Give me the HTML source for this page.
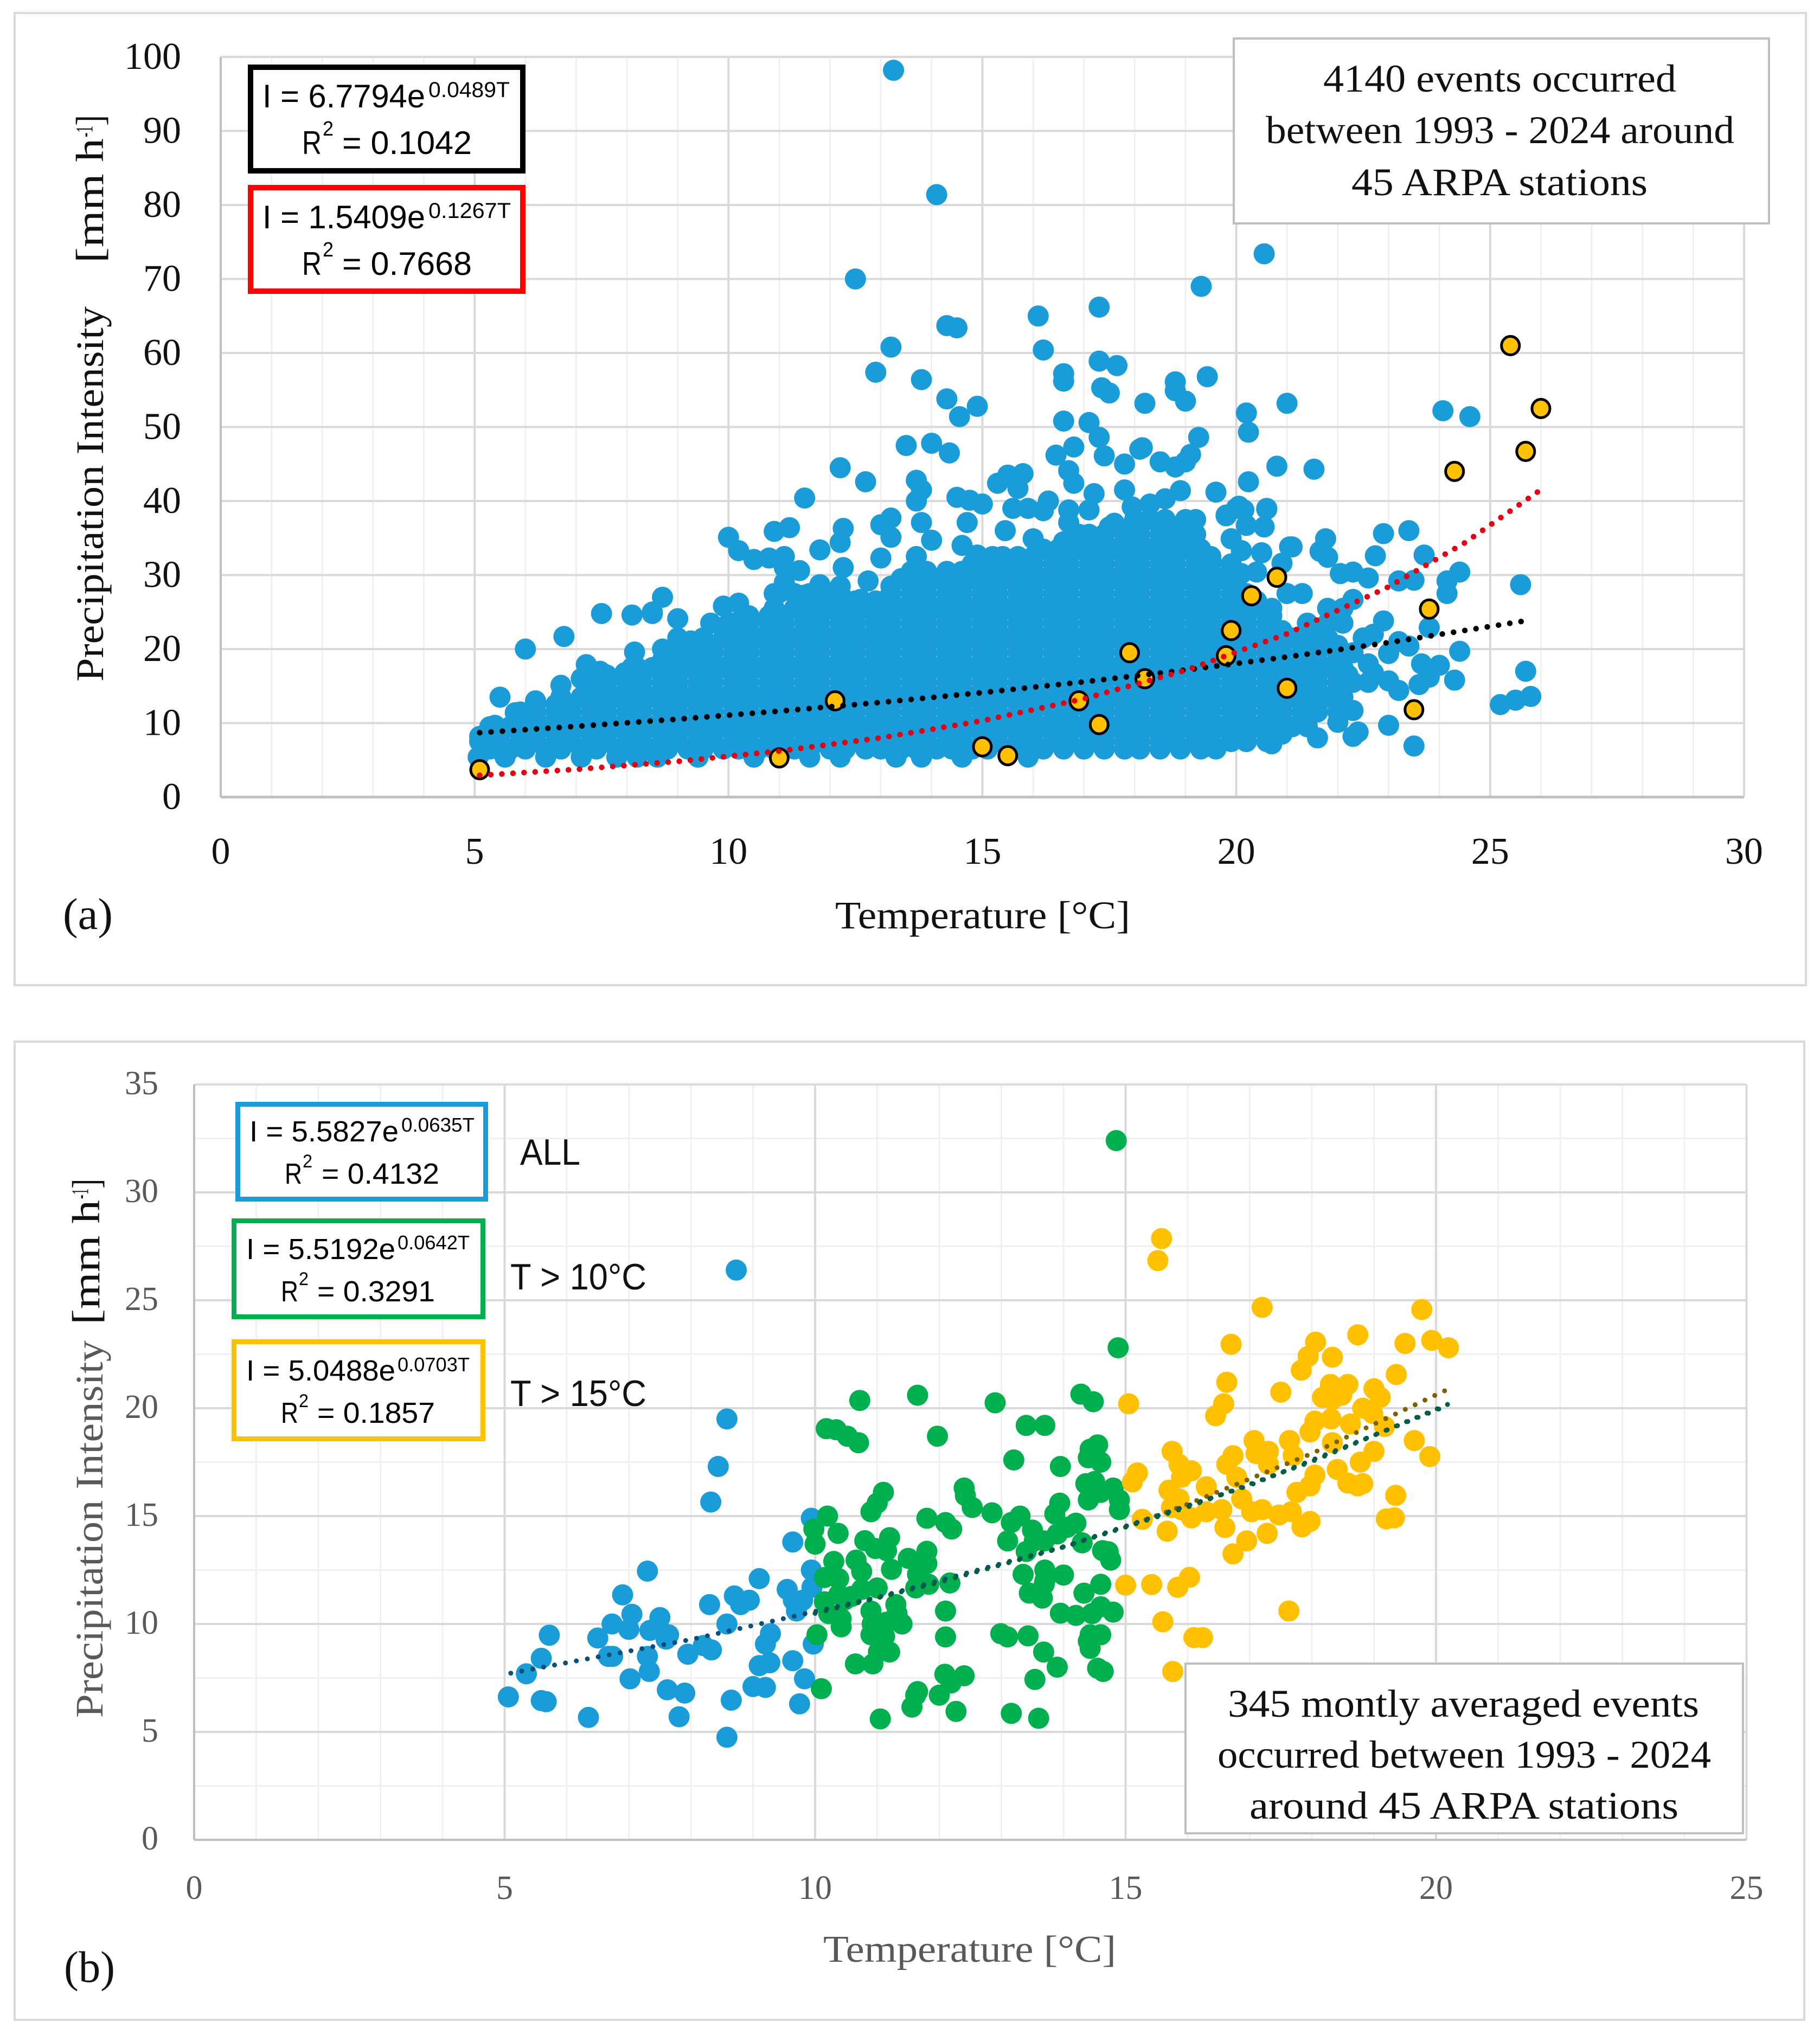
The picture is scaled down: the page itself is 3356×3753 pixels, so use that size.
<!DOCTYPE html>
<html lang="en">
<head>
<meta charset="utf-8">
<title>Precipitation intensity vs temperature</title>
<style>
html,body{margin:0;padding:0;background:#fff;}
svg{display:block;}
.serif{font-family:"Liberation Serif","DejaVu Serif",serif;}
.sans{font-family:"Liberation Sans","DejaVu Sans",sans-serif;}
</style>
</head>
<body>
<svg id="figure" xmlns="http://www.w3.org/2000/svg" width="3356" height="3753" viewBox="0 0 3356 3753">
<rect x="0" y="0" width="3356" height="3753" fill="#fff"/>
<rect x="27" y="24" width="3303" height="1793" fill="#fff" stroke="#d9d9d9" stroke-width="4"/>
<rect x="27" y="1921" width="3300" height="1804" fill="#fff" stroke="#d9d9d9" stroke-width="4"/>

<g id="gridA"></g>
<g id="gridB"></g>
<g id="marksA"></g>
<g id="marksB"></g>
<g id="ticksA" class="serif" font-size="70" fill="#111"></g>
<g id="ticksB" class="serif" font-size="62" fill="#595959"></g>

<!-- panel a annotations -->
<g class="serif" fill="#111">
<text x="1540" y="1712" font-size="72" textLength="544" lengthAdjust="spacingAndGlyphs">Temperature [°C]</text>
<text x="190" y="1257" font-size="72" textLength="692" lengthAdjust="spacingAndGlyphs" transform="rotate(-90 190 1257)">Precipitation Intensity</text>
<text x="190" y="485" font-size="72" textLength="230" lengthAdjust="spacingAndGlyphs" transform="rotate(-90 190 485)">[mm h</text>
<text x="170" y="253" font-size="44" textLength="21" lengthAdjust="spacingAndGlyphs" transform="rotate(-90 170 253)">-1</text>
<text x="190" y="232" font-size="72" textLength="20" lengthAdjust="spacingAndGlyphs" transform="rotate(-90 190 232)">]</text>
<text x="116" y="1713" font-size="82" textLength="92" lengthAdjust="spacingAndGlyphs">(a)</text>
</g>

<g class="sans" fill="#000">
<rect x="462" y="124" width="502" height="191" fill="#fff" stroke="#000" stroke-width="10"/>
<text x="484" y="198" font-size="60" textLength="300" lengthAdjust="spacingAndGlyphs">I = 6.7794e</text>
<text x="790" y="179" font-size="40" textLength="150" lengthAdjust="spacingAndGlyphs">0.0489T</text>
<text x="557" y="284" font-size="60" textLength="36" lengthAdjust="spacingAndGlyphs">R</text>
<text x="595" y="250" font-size="38" textLength="20" lengthAdjust="spacingAndGlyphs">2</text>
<text x="631" y="284" font-size="60" textLength="239" lengthAdjust="spacingAndGlyphs">= 0.1042</text>
</g>
<g class="sans" fill="#000">
<rect x="462" y="346" width="502" height="191" fill="#fff" stroke="#ff0000" stroke-width="10"/>
<text x="484" y="421" font-size="60" textLength="300" lengthAdjust="spacingAndGlyphs">I = 1.5409e</text>
<text x="790" y="402" font-size="40" textLength="152" lengthAdjust="spacingAndGlyphs">0.1267T</text>
<text x="557" y="507" font-size="60" textLength="36" lengthAdjust="spacingAndGlyphs">R</text>
<text x="595" y="473" font-size="38" textLength="20" lengthAdjust="spacingAndGlyphs">2</text>
<text x="631" y="507" font-size="60" textLength="239" lengthAdjust="spacingAndGlyphs">= 0.7668</text>
</g>
<g class="serif" fill="#111" font-size="72">
<rect x="2275" y="71" width="987" height="341" fill="#fff" stroke="#bfbfbf" stroke-width="4"/>
<text x="2440" y="169" textLength="651" lengthAdjust="spacingAndGlyphs">4140 events occurred</text>
<text x="2334" y="264" textLength="864" lengthAdjust="spacingAndGlyphs">between 1993 - 2024 around</text>
<text x="2492" y="360" textLength="546" lengthAdjust="spacingAndGlyphs">45 ARPA stations</text>
</g>

<!-- panel b annotations -->
<g class="serif">
<text fill="#595959" x="1518" y="3618" font-size="70" textLength="540" lengthAdjust="spacingAndGlyphs">Temperature [°C]</text>
<text fill="#595959" x="189" y="3168" font-size="72" textLength="696" lengthAdjust="spacingAndGlyphs" transform="rotate(-90 189 3168)">Precipitation Intensity</text>
<text fill="#111" x="183" y="2443" font-size="72" textLength="230" lengthAdjust="spacingAndGlyphs" transform="rotate(-90 183 2443)">[mm h</text>
<text fill="#111" x="162" y="2211" font-size="44" textLength="19" lengthAdjust="spacingAndGlyphs" transform="rotate(-90 162 2211)">-1</text>
<text fill="#111" x="183" y="2192" font-size="72" textLength="18" lengthAdjust="spacingAndGlyphs" transform="rotate(-90 183 2192)">]</text>
<text fill="#111" x="118" y="3655" font-size="82" textLength="94" lengthAdjust="spacingAndGlyphs">(b)</text>
</g>

<g class="sans" fill="#000">
<rect x="438.5" y="2036.5" width="457" height="175" fill="#fff" stroke="#1a9cd8" stroke-width="9"/>
<text x="460" y="2105" font-size="54" textLength="275" lengthAdjust="spacingAndGlyphs">I = 5.5827e</text>
<text x="740" y="2087" font-size="36" textLength="135" lengthAdjust="spacingAndGlyphs">0.0635T</text>
<text x="525" y="2183" font-size="54" textLength="32" lengthAdjust="spacingAndGlyphs">R</text>
<text x="558" y="2153" font-size="34" textLength="18" lengthAdjust="spacingAndGlyphs">2</text>
<text x="593" y="2183" font-size="54" textLength="217" lengthAdjust="spacingAndGlyphs">= 0.4132</text>
</g>
<g class="sans" fill="#000">
<rect x="431.5" y="2251.5" width="459" height="177" fill="#fff" stroke="#00b04f" stroke-width="9"/>
<text x="454" y="2322" font-size="54" textLength="275" lengthAdjust="spacingAndGlyphs">I = 5.5192e</text>
<text x="733" y="2304" font-size="36" textLength="133" lengthAdjust="spacingAndGlyphs">0.0642T</text>
<text x="518" y="2400" font-size="54" textLength="32" lengthAdjust="spacingAndGlyphs">R</text>
<text x="551" y="2370" font-size="34" textLength="18" lengthAdjust="spacingAndGlyphs">2</text>
<text x="585" y="2400" font-size="54" textLength="217" lengthAdjust="spacingAndGlyphs">= 0.3291</text>
</g>
<g class="sans" fill="#000">
<rect x="431.5" y="2474.5" width="459" height="179" fill="#fff" stroke="#ffc000" stroke-width="9"/>
<text x="454" y="2546" font-size="54" textLength="275" lengthAdjust="spacingAndGlyphs">I = 5.0488e</text>
<text x="733" y="2529" font-size="36" textLength="133" lengthAdjust="spacingAndGlyphs">0.0703T</text>
<text x="518" y="2624" font-size="54" textLength="32" lengthAdjust="spacingAndGlyphs">R</text>
<text x="551" y="2595" font-size="34" textLength="18" lengthAdjust="spacingAndGlyphs">2</text>
<text x="585" y="2624" font-size="54" textLength="217" lengthAdjust="spacingAndGlyphs">= 0.1857</text>
</g>
<g class="sans" fill="#111" font-size="68">
<text x="959" y="2148" textLength="111" lengthAdjust="spacingAndGlyphs">ALL</text>
<text x="941" y="2378" textLength="251" lengthAdjust="spacingAndGlyphs">T &gt; 10°C</text>
<text x="941" y="2593" textLength="251" lengthAdjust="spacingAndGlyphs">T &gt; 15°C</text>
</g>
<g class="serif" fill="#111" font-size="72">
<rect x="2186" y="3068" width="1028" height="313" fill="#fff" stroke="#bfbfbf" stroke-width="4"/>
<text x="2264" y="3166" textLength="869" lengthAdjust="spacingAndGlyphs">345 montly averaged events</text>
<text x="2245" y="3260" textLength="910" lengthAdjust="spacingAndGlyphs">occurred between 1993 - 2024</text>
<text x="2304" y="3354" textLength="791" lengthAdjust="spacingAndGlyphs">around 45 ARPA stations</text>
</g>
</svg>

<script>
// ---------- panel (a) data ----------
const xTicksA = [0, 5, 10, 15, 20, 25, 30];
const yTicksA = [0, 10, 20, 30, 40, 50, 60, 70, 80, 90, 100];
const xMinorA = [1,2,3,4,6,7,8,9,11,12,13,14,16,17,18,19,21,22,23,24,26,27,28,29];

// Dense core of the event cloud: intensity level of each band, and the temperatures read along it
const cloudLevels = [5.4, 6.5, 7.5, 9.5, 11.5, 13.5, 15.5, 17.5, 19.5, 21.5, 23.5, 25.5, 27.5, 29.5, 31.5, 33.5, 35.5, 37.5];
const cloudTemps = [
[5.6,6.4,7.1,7.8,8.2,8.6,9.4,10.5,11.6,12.2,13.3,13.8,14.6,15.9],
[5.3,5.7,6.0,6.4,6.7,7.1,7.4,7.8,8.1,8.5,8.8,9.2,9.5,9.9,10.2,10.6,10.9,11.3,11.6,12.0,12.3,12.7,13.0,13.4,13.7,14.1,14.4,14.8,15.1,15.5,15.8,16.2,16.6,17.0,17.4,17.8,18.1,18.5,18.9,19.3,19.6],
[5.2,5.5,5.9,6.2,6.6,6.9,7.3,7.6,8.0,8.3,8.7,9.0,9.4,9.7,10.1,10.4,10.8,11.1,11.5,11.8,12.2,12.5,12.9,13.2,13.6,13.9,14.3,14.6,15.0,15.3,15.7,16.0,16.4,16.7,17.1,17.4,17.8,18.1,18.5,18.8,19.2,19.5,19.9,20.2,20.6],
[5.3,5.7,6.0,6.4,6.7,7.1,7.4,7.8,8.1,8.5,8.8,9.2,9.5,9.9,10.2,10.6,10.9,11.3,11.6,12.0,12.3,12.7,13.0,13.4,13.7,14.1,14.4,14.8,15.1,15.5,15.8,16.2,16.5,16.9,17.2,17.6,17.9,18.3,18.6,19.0,19.3,19.7,20.0,20.4,20.7,21.1,21.4],
[5.9,6.2,6.6,6.9,7.3,7.6,8.0,8.3,8.7,9.0,9.4,9.7,10.1,10.4,10.8,11.1,11.5,11.8,12.2,12.5,12.9,13.2,13.6,13.9,14.3,14.6,15.0,15.3,15.7,16.0,16.4,16.7,17.1,17.4,17.8,18.1,18.5,18.8,19.2,19.5,19.9,20.2,20.6,20.9,21.3,21.6,22.0],
[6.7,7.1,7.4,7.8,8.1,8.5,8.8,9.2,9.5,9.9,10.2,10.6,10.9,11.3,11.6,12.0,12.3,12.7,13.0,13.4,13.7,14.1,14.4,14.8,15.1,15.5,15.8,16.2,16.5,16.9,17.2,17.6,17.9,18.3,18.6,19.0,19.3,19.7,20.0,20.4,20.7,21.1,21.4,21.8,22.1],
[7.3,7.6,8.0,8.3,8.7,9.0,9.4,9.7,10.1,10.4,10.8,11.1,11.5,11.8,12.2,12.5,12.9,13.2,13.6,13.9,14.3,14.6,15.0,15.3,15.7,16.0,16.4,16.7,17.1,17.4,17.8,18.1,18.5,18.8,19.2,19.5,19.9,20.2,20.6,20.9,21.3,21.6,22.0,22.3],
[8.1,8.5,8.8,9.2,9.5,9.9,10.2,10.6,10.9,11.3,11.6,12.0,12.3,12.7,13.0,13.4,13.7,14.1,14.4,14.8,15.1,15.5,15.8,16.2,16.5,16.9,17.2,17.6,17.9,18.3,18.6,19.0,19.3,19.7,20.0,20.4,20.7,21.1,21.4,21.8,22.1],
[9.0,9.4,9.7,10.1,10.4,10.8,11.1,11.5,11.8,12.2,12.5,12.9,13.2,13.6,13.9,14.3,14.6,15.0,15.3,15.7,16.0,16.4,16.7,17.1,17.4,17.8,18.1,18.5,18.8,19.2,19.5,19.9,20.2,20.6,20.9,21.3,21.6,22.0,22.3],
[9.5,9.9,10.2,10.6,10.9,11.3,11.6,12.0,12.3,12.7,13.0,13.4,13.7,14.1,14.4,14.8,15.1,15.5,15.8,16.2,16.5,16.9,17.2,17.6,17.9,18.3,18.6,19.0,19.3,19.7,20.0,20.4,20.7,21.1,21.4,21.8],
[10.1,10.4,10.8,11.1,11.5,11.8,12.2,12.5,12.9,13.2,13.6,13.9,14.3,14.6,15.0,15.3,15.7,16.0,16.4,16.7,17.1,17.4,17.8,18.1,18.5,18.8,19.2,19.5,19.9,20.2,20.6,21.4,21.8,22.1],
[10.9,11.3,11.6,12.0,12.3,12.7,13.0,13.4,13.7,14.1,14.4,14.8,15.1,15.5,15.8,16.2,16.5,16.9,17.2,17.6,17.9,18.3,18.6,19.0,19.3,19.7,20.0,20.4,20.7,21.8,22.1],
[10.9,11.3,11.6,12.0,12.2,13.2,13.6,13.9,14.3,14.6,15.0,15.3,15.7,16.0,16.4,16.7,17.1,17.4,17.8,18.1,18.5,18.8,19.2,19.5,19.9,20.2,21.0,21.3],
[13.4,13.7,14.1,14.4,14.8,15.1,15.5,15.8,16.2,16.5,16.9,17.2,17.6,17.9,18.3,18.6,19.0,19.3,19.7],
[14.8,15.2,15.6,16.0,16.4,16.7,17.1,17.4,17.8,18.1,18.5,18.8,19.2,19.5,19.9],
[16.2,16.5,16.9,17.2,17.6,17.9,18.3,18.6,19.0,19.3],
[16.9,17.4,17.8,18.1,18.5,18.8,19.2],
[18.0,18.3,18.6,19.0,19.2]
];

// Second pass of bands between the levels above, where the reference cloud is solid
const cloudFillLevels = [8.5, 10.5, 12.5, 14.5, 16.5, 18.5, 20.5, 22.5, 24.5, 26.5, 28.5, 30.5, 32.5, 34.5, 36.5];
const cloudFillTemps = [
[5.5,6.2,6.9,7.6,8.3,9.0,9.7,10.4,11.1,11.8,12.5,13.2,13.9,14.6,15.3,16.0,16.7,17.4,18.1,18.8,19.5,20.2,20.9],
[5.9,6.6,7.3,8.0,8.7,9.4,10.1,10.8,11.5,12.2,12.9,13.6,14.3,15.0,15.7,16.4,17.1,17.8,18.5,19.2,19.9,20.6,21.3],
[6.2,6.9,7.6,8.3,9.0,9.7,10.4,11.1,11.8,12.5,13.2,13.9,14.6,15.3,16.0,16.7,17.4,18.1,18.8,19.5,20.2,20.9,21.6],
[7.3,8.0,8.7,9.4,10.1,10.8,11.5,12.2,12.9,13.6,14.3,15.0,15.7,16.4,17.1,17.8,18.5,19.2,19.9,20.6,21.3,22.0],
[7.6,8.3,9.0,9.7,10.4,11.1,11.8,12.5,13.2,13.9,14.6,15.3,16.0,16.7,17.4,18.1,18.8,19.5,20.2,20.9,21.6,22.2],
[8.7,9.4,10.1,10.8,11.5,12.2,12.9,13.6,14.3,15.0,15.7,16.4,17.1,17.8,18.5,19.2,19.9,20.6,21.3,22.0],
[9.3,9.7,10.4,11.1,11.8,12.5,13.2,13.9,14.6,15.3,16.0,16.7,17.4,18.1,18.8,19.5,20.2,20.9,21.6,22.0],
[10.1,10.8,11.5,12.2,12.9,13.6,14.3,15.0,15.7,16.4,17.1,17.8,18.5,19.2,19.9,20.6,21.6],
[10.4,11.1,11.8,12.5,13.2,13.9,14.6,15.3,16.0,16.7,17.4,18.1,18.8,19.5,20.2,20.7],
[11.5,12.2,12.9,13.6,14.3,15.0,15.7,16.4,17.1,17.8,18.5,19.2,19.9,20.4],
[13.2,13.9,14.6,15.3,16.0,16.7,17.4,18.1,18.8,19.5,20.0],
[13.6,14.3,15.0,15.7,16.4,17.1,17.8,18.5,19.2,19.9],
[15.2,16.0,16.7,17.4,18.1,18.8,19.5],
[16.6,17.1,17.8,18.5,19.1],
[17.5,18.1,18.8]
];

// Third pass on the same levels, closing the pinholes left in the solid area
const cloudCloseLevels = [8.5, 10.5, 12.5, 14.5, 16.5, 18.5, 20.5, 22.5, 24.5, 26.5, 28.5, 30.5, 32.5, 34.5];
const cloudCloseTemps = [
[5.9,6.6,7.3,8.0,8.7,9.4,10.1,10.8,11.5,12.2,12.9,13.6,14.3,15.0,15.7,16.4,17.1,17.8,18.5,19.2,19.9,20.6],
[6.2,6.9,7.6,8.3,9.0,9.7,10.4,11.1,11.8,12.5,13.2,13.9,14.6,15.3,16.0,16.7,17.4,18.1,18.8,19.5,20.2,20.9],
[6.6,7.3,8.0,8.7,9.4,10.1,10.8,11.5,12.2,12.9,13.6,14.3,15.0,15.7,16.4,17.1,17.8,18.5,19.2,19.9,20.6,21.3],
[7.6,8.3,9.0,9.7,10.4,11.1,11.8,12.5,13.2,13.9,14.6,15.3,16.0,16.7,17.4,18.1,18.8,19.5,20.2,20.9,21.6],
[8.0,8.7,9.4,10.1,10.8,11.5,12.2,12.9,13.6,14.3,15.0,15.7,16.4,17.1,17.8,18.5,19.2,19.9,20.6,21.3,22.0],
[9.0,9.7,10.4,11.1,11.8,12.5,13.2,13.9,14.6,15.3,16.0,16.7,17.4,18.1,18.8,19.5,20.2,20.9,21.6],
[9.4,10.1,10.8,11.5,12.2,12.9,13.6,14.3,15.0,15.7,16.4,17.1,17.8,18.5,19.2,19.9,20.6,21.3],
[10.4,11.1,11.8,12.5,13.2,13.9,14.6,15.3,16.0,16.7,17.4,18.1,18.8,19.5,20.2,20.9],
[10.8,11.5,12.2,12.9,13.6,14.3,15.0,15.7,16.4,17.1,17.8,18.5,19.2,19.9,20.6],
[11.8,12.5,13.2,13.9,14.6,15.3,16.0,16.7,17.4,18.1,18.8,19.5,20.2],
[13.6,14.3,15.0,15.7,16.4,17.1,17.8,18.5,19.2,19.9],
[13.9,14.6,15.3,16.0,16.7,17.4,18.1,18.8,19.5],
[15.7,16.4,17.1,17.8,18.5,19.2],
[17.4,18.1,18.8]
];

// Individually readable events around the cloud [temperature, intensity]
const eventsOuter = [
[13.25,98.2],[14.1,81.4],[12.5,70],[20.55,73.4],[19.31,69],[17.3,66.2],[16.1,65],[16.2,60.4],[13.2,60.8],[12.9,57.4],[14.3,63.7],[14.5,63.4],[13.8,56.4],
[14.3,53.8],[14.9,52.8],[14.55,51.4],[17.3,58.9],[17.65,58.3],[16.6,57.2],[16.6,56.2],[17.35,55.3],[17.5,54.6],[19.43,56.8],[18.8,56.1],[18.8,54.9],[19,53.5],[18.2,53.2],
[16.6,50.8],[17.1,50.6],[17.3,48.6],[16.8,47.3],[16.45,46.2],[17.4,46.1],[18.1,47],[17.8,45],[13.5,47.5],[14,47.8],[14.35,46.5],[12.2,44.5],[12.7,42.6],[11.5,40.4],
[19.26,48.6],[19.1,46.3],[18.5,45.3],[18.8,44.6],[19,45.3],[18.15,47.2],[20.2,51.9],[20.24,49.3],[21,53.2],[20.8,44.7],[21.53,44.3],[20.24,42.6],[19.6,41.2],[18.9,41.4],
[24.07,52.2],[24.6,51.4],[16.7,44.1],[17.8,41.5],[16.8,42.4],[17.2,41],[15.8,43.7],[15.5,43.5],[15.3,42.4],[15.7,41.7],[13.7,42.8],[13.8,41.5],[13.7,40],[14.5,40.5],[14.75,40.1],[15,39.6],
[16.3,40],[15.6,39],[15.9,39],[17.1,38.8],[16.7,38.8],[16.2,38.7],[16.7,37.1],[17.6,37],[17.95,39.2],[18.3,39.6],[18.6,40.3],[20,39],[20.6,39],[19.8,38.1],[19,37.3],[14.7,37.1],[15.45,36],[13.8,37.1],
[13.2,37.7],[13,36.8],[12.26,36.3],[11.2,36.4],[10.9,35.9],[10,35.1],[14,34.7],[13.2,35.1],[12.2,34.4],[14.6,34],[16,34.9],[17.1,35.5],[19.9,34.9],[20.1,33.3],[20.5,33],[21.1,33.8],
[11.8,33.4],[10.2,33.3],[10.5,32.1],[10.8,32.3],[11.1,32.5],[11.4,30.6],[11.1,31],[12.26,31],[13,32.3],[13.7,32.5],[14.9,32.7],[15.4,32.5],[16.7,33.6],[19.2,33],[19.5,32.1],[20.4,30.4],[20.1,30.2],[20.9,31.6],
[8.7,27],[8.5,25],[9,24.1],[7.5,24.8],[8.1,24.6],[8.5,24.8],[6.76,21.7],[6,20],[8.15,19.6],[8.7,20],[9.26,21.1],[9.1,18.3],[9.9,25.8],[9.65,23.5],[10.4,24.5],[10.8,23.9],[11,27.6],[11.5,27.3],[11.8,28.7],[12.2,28.5],[12.75,29.2],[12.6,26.7],[11.1,29],[10.2,26.2],
[7.2,17.9],[7.47,17],[7.96,16.8],[8.2,17.5],[6.7,15.1],[7.1,16],[5.5,13.5],[6.2,13],[5.8,11.4],[7.4,13.3],[5.4,9.7],[5.1,8.2],[5.07,5.4],[5.1,7.5],[9.0,21.5],[9.9,23],
[20.6,38.9],[20.05,39.3],[19.8,38],[20.15,38.8],[20.55,36.5],[20.2,36.7],[19.9,34.9],[20.1,33.3],[20.5,33],[21.05,33.8],[21.76,34.9],[21.65,33.2],[21.8,32.4],[22.9,35.6],[23.4,36],[22.74,32.6],[23.7,32.7],
[24.4,30.4],[24.15,29.2],[24.15,27.5],[23.5,29.3],[23.2,29.2],[25.6,28.7],[22.6,29.6],[22.3,30.4],[22.05,30.2],[22.3,26.7],[22.9,23.8],[23.8,22.9],[22.5,21.5],[23.4,20.4],[23,19.4],[22.7,22],[23.2,21],
[22.6,15.5],[23,15.7],[23.2,14.4],[23.6,15.2],[23.65,18],[24,17.8],[23.8,16.2],[24.4,19.7],[24.3,15.8],[25.7,17],[25.2,12.5],[25.5,13.1],[25.8,13.6],[23,9.7],[23.5,6.9],[22.3,8.2],[22.4,8.8],[22,10.1],[21.6,8],[22.3,11.7],[20.7,7.2],[22.6,18],[22.7,16.8]
];

const maximaPoints = [[5.1,3.7],[11,5.3],[12.1,13],[15,6.8],[15.5,5.6],[16.9,13],[17.3,9.8],[17.9,19.5],[18.2,16],[19.8,19.1],[19.9,22.5],[20.3,27.2],[20.8,29.7],[21,14.7],[23.5,11.8],[23.8,25.4],[24.3,44],[25.4,61],[25.7,46.7],[26,52.5]];

const trendTempsAllA = [5.1,7,9,11,13,15,17,19,21,23,25.7];
const trendValuesAllA = [8.70,9.55,10.53,11.61,12.80,14.12,15.57,17.17,18.93,20.88,23.82];
const trendTempsMaxA = [5.1,7,9,11,13,15,17,19,21,23,24.5,26];
const trendValuesMaxA = [2.94,3.74,4.82,6.21,8.00,10.31,13.28,17.11,22.05,28.40,34.35,41.54];

// ---------- panel (b) data ----------
const xTicksB = [0, 5, 10, 15, 20, 25];
const yTicksB = [0, 5, 10, 15, 20, 25, 30, 35];
const xMinorB = [1,2,3,4,6,7,8,9,11,12,13,14,16,17,18,19,21,22,23,24];
const yMinorB = [2.5,7.5,12.5,17.5,22.5,27.5,32.5];

const monthlyAll = [
[8.73,26.4],[8.58,19.5],[8.44,17.3],[8.32,15.65],[9.94,14.9],[9.64,13.8],[7.3,12.45],[9.94,12.5],[9.1,12.1],[6.9,11.35],[8.3,10.9],[8.7,11.3],[8.94,11.1],[8.8,10.9],[9.55,11.6],[9.65,11.1],[9.95,11.7],[9.8,11.1],[9.7,10.6],
[7.05,10.45],[6.73,10],[7.5,10.3],[7,9.75],[7.34,9.7],[7.64,9.5],[6.5,9.35],[7.6,9.3],[8.58,10],[9.28,9.55],[9.2,9.07],[9.97,9.07],[5.72,9.48],[6.67,8.5],[6.74,8.5],[7.3,8.5],[7.95,8.6],[8.33,8.8],[8.2,9],[5.59,8.41],[7.33,7.8],[7.02,7.46],
[9.27,8.2],[9.1,8.07],[9.64,8.3],[9.83,7.46],[7.62,6.95],[7.9,6.8],[9,7.1],[9.2,7.06],[5.59,6.45],[5.67,6.4],[8.65,6.47],[9.75,6.3],[6.35,5.67],[7.81,5.7],[8.58,4.75],[5.06,6.62],[5.35,7.69]
];

const monthlyT10 = [
[14.85,32.4],[14.88,22.8],[10.72,20.36],[11.65,20.6],[12.9,20.25],[14.28,20.65],[14.48,20.3],[10.18,19.05],[10.34,19],[10.52,18.7],[10.7,18.4],[11.97,18.7],[13.4,19.2],[13.7,19.2],[14.55,18.3],[14.43,18.1],[14.6,17.5],[14.4,17.7],[13.2,17.6],[13.95,17.3],
[12.4,16.3],[12.42,15.95],[12.53,15.4],[11.1,16.1],[11,15.6],[10.9,15.2],[10.2,15],[14.36,16.5],[14.5,16.6],[14.8,16.3],[14.6,16.1],[14.9,15.75],[14.4,15.75],[14.9,15.3],[13.94,15.6],[13.86,15.1],[12.85,15.15],[11.8,14.9],[12.1,14.7],[12.2,14.4],
[13.3,15],[13.16,14.7],[14.2,14.67],[13.5,14.35],[9.98,14.4],[10,13.7],[10.37,14.2],[11.2,14],[10.8,13.86],[10.97,13.5],[11.15,13.4],[13.1,13.85],[14.3,13.76],[14.63,13.4],[14.72,13.35],[14.76,12.96],[13.53,13.85],[13.69,13.85],[13.4,13.36],[13.9,14.17],[14.06,14.48],
[10.3,12.9],[10.66,12.96],[11.8,13.37],[11.5,13.04],[11.8,12.8],[11.23,12.53],[10.75,12.43],[10.15,12.15],[10.38,12.1],[11.65,12.3],[11.62,11.67],[11.83,11.84],[12.17,11.9],[13.35,12.3],[13.7,12.5],[14,12.27],[13.69,11.84],[13.7,12],
[11,11.67],[10.75,11.6],[10.59,11.28],[10.38,11.36],[14.6,11.84],[14.33,11.43],[13.45,11.43],[13.66,11.2],[10.15,11.03],[10.48,11.12],[10.22,10.48],[10.42,10.24],[10.42,9.87],[10.03,9.5],[10.9,10.6],[11.3,10.9],[11.32,10.48],[11.4,10],[11.15,10.08],[10.92,10],[10.9,9.5],[11.12,9.43],[11.2,8.7],[11.02,8.7],[10.65,8.15],[10.93,8.15],[10.1,7],
[12.1,10.6],[12.1,9.4],[12.99,9.55],[13.1,9.4],[13.43,9.45],[13.68,8.7],[13.9,8],[13.54,7.43],[13.95,10.5],[14.2,10.4],[14.46,10.48],[14.6,10.8],[14.8,10.55],[14.43,9.5],[14.6,9.5],[14.4,9.2],[14.43,8.87],[14.55,7.95],[14.64,7.8],
[12.09,7.67],[12.4,7.6],[12.19,7.27],[12,6.7],[11.62,6.7],[11.65,6.87],[11.56,6.15],[12.27,5.95],[11.05,5.6],[13.16,5.86],[13.6,5.63]
];

const monthlyT15 = [
[15.58,27.86],[15.52,26.84],[17.2,24.67],[19.77,24.57],[18.74,23.4],[16.7,22.96],[19.5,23],[19.93,23.14],[20.2,22.8],[18.06,23.06],[17.94,22.4],[17.83,21.76],[18.33,22.36],[16.63,21.2],[19.36,21.56],[15.05,20.2],[16.58,20.2],[16.45,19.65],[17.5,20.74],
[18.3,21.1],[18.58,21.1],[18.17,20.5],[18.33,20.4],[18.48,20.6],[19,20.9],[19.1,20.5],[18.82,20],[18.98,19.76],[18.05,19.4],[18.31,19.5],[17.97,18.9],[18.62,19.27],[19.17,19.15],[19.65,18.5],[19.9,17.76],[19,18],[18.78,17.5],
[17.07,18.5],[17.1,17.9],[17.3,18],[17.3,17.4],[17.64,18.5],[17.7,17.8],[15.75,18],[15.86,17.4],[16.06,17.1],[15.9,16.8],[16.63,17.4],[16.73,17.8],[15.19,17],[15.11,16.58],[16.79,16.8],[16.87,15.8],[16.3,16.36],[15.7,16.2],[15.86,15.8],[15.74,15.4],[15.9,15.3],
[18.05,16.9],[17.97,16.4],[17.76,16.1],[18.33,18.4],[18.41,17.16],[18.58,16.53],[18.74,16.4],[18.82,16.5],[19.35,15.96],[17.97,14.75],[17.84,14.5],[19.2,14.87],[19.33,14.92],[15.27,14.85],[16.06,14.92],[16.3,15.2],[16.55,15.3],[16.6,14.47],[15.67,14.3],
[17.03,15.2],[17.2,15.3],[17.47,15.05],[17.67,15.2],[17.28,14.2],[16.95,13.85],[16.73,13.25],[15,11.8],[15.42,11.83],[15.84,11.7],[16.03,12.16],[17.63,10.6],[15.6,10.1],[16.1,9.37],[16.24,9.37],[15.76,7.8]
];

const trendTempsAllB = [5.1,8,11,14,17,20.2];
const trendValuesAllB = [7.72,9.28,11.23,13.58,16.43,20.14];
const trendTempsT10B = [10,12,14,16,18,20.2];
const trendValuesT10B = [10.49,11.93,13.56,15.42,17.53,20.19];
const trendTempsT15B = [15,16,18,20.2];
const trendValuesT15B = [14.49,15.55,17.9,20.89];

// ---------- axis functions ----------
const NS = 'http://www.w3.org/2000/svg';
function xA(t){ return 407 + t * 93.63; }
function yA(v){ return 1470 - v * 13.65; }
function xB(t){ return 358 + t * 114.5; }
function yB(v){ return 3393 - v * 39.8; }

function gridLine(parent, x1, y1, x2, y2, color, width, name){
  const el = document.createElementNS(NS, 'line');
  el.setAttribute('x1', x1); el.setAttribute('y1', y1);
  el.setAttribute('x2', x2); el.setAttribute('y2', y2);
  el.setAttribute('stroke', color); el.setAttribute('stroke-width', width);
  
  
  parent.appendChild(el);
}
function tickLabel(parent, x, y, anchor, value, name){
  const el = document.createElementNS(NS, 'text');
  el.setAttribute('x', x); el.setAttribute('y', y);
  el.setAttribute('text-anchor', anchor);
  el.textContent = value;
  
  
  parent.appendChild(el);
}
function dot(parent, cx, cy, fill, name, stroke){
  const el = document.createElementNS(NS, 'ellipse');
  el.setAttribute('cx', cx.toFixed(1)); el.setAttribute('cy', cy.toFixed(1));
  if (stroke) {
    el.setAttribute('rx', 16.5); el.setAttribute('ry', 17);
    el.setAttribute('stroke', stroke); el.setAttribute('stroke-width', 5);
  } else {
    el.setAttribute('rx', 19.5); el.setAttribute('ry', 19.5);
  }
  el.setAttribute('fill', fill);
  
  
  parent.appendChild(el);
}
function trend(parent, temps, values, xf, yf, color, width, gap, name){
  const el = document.createElementNS(NS, 'polyline');
  el.setAttribute('points', temps.map(function(t, i){ return xf(t).toFixed(1) + ',' + yf(values[i]).toFixed(1); }).join(' '));
  el.setAttribute('fill', 'none');
  el.setAttribute('stroke', color);
  el.setAttribute('stroke-width', width);
  el.setAttribute('stroke-linecap', 'round');
  el.setAttribute('stroke-dasharray', '0 ' + gap);
  
  
  parent.appendChild(el);
}

// ---------- panel (a) ----------
const gridA = document.getElementById('gridA');
const ticksA = document.getElementById('ticksA');
const marksA = document.getElementById('marksA');
xMinorA.forEach(function(t){ gridLine(gridA, xA(t), yA(100), xA(t), yA(0), '#f0f0f0', 3, 'minor-vertical-gridline'); });
xTicksA.forEach(function(t){ gridLine(gridA, xA(t), yA(100), xA(t), yA(0), '#d9d9d9', 4, 'major-vertical-gridline'); });
yTicksA.forEach(function(v){ gridLine(gridA, xA(0), yA(v), xA(30), yA(v), '#d9d9d9', 4, 'major-horizontal-gridline'); });
gridLine(gridA, xA(0), yA(100), xA(0), yA(0), '#bfbfbf', 4, 'y-axis-line');
gridLine(gridA, xA(0), yA(0), xA(30), yA(0), '#bfbfbf', 5, 'x-axis-line');
xTicksA.forEach(function(t){ tickLabel(ticksA, xA(t), 1593, 'middle', t, 'x-tick-label'); });
yTicksA.forEach(function(v){ tickLabel(ticksA, 334, yA(v) + 22, 'end', v, 'y-tick-label'); });

cloudLevels.forEach(function(level, i){
  cloudTemps[i].forEach(function(t){ dot(marksA, xA(t), yA(level), '#1a9cd8', 'event-point'); });
});
cloudFillLevels.forEach(function(level, i){
  cloudFillTemps[i].forEach(function(t){ dot(marksA, xA(t), yA(level), '#1a9cd8', 'event-point'); });
});
cloudCloseLevels.forEach(function(level, i){
  cloudCloseTemps[i].forEach(function(t){ dot(marksA, xA(t), yA(level), '#1a9cd8', 'event-point'); });
});
eventsOuter.forEach(function(p){ dot(marksA, xA(p[0]), yA(p[1]), '#1a9cd8', 'event-point'); });
maximaPoints.forEach(function(p){ dot(marksA, xA(p[0]), yA(p[1]), '#ffc000', 'maximum-point', '#000'); });
trend(marksA, trendTempsAllA, trendValuesAllA, xA, yA, '#000', 10.5, 21, 'trendline-all-events');
trend(marksA, trendTempsMaxA, trendValuesMaxA, xA, yA, '#e60012', 10.5, 20.5, 'trendline-maxima');

// ---------- panel (b) ----------
const gridB = document.getElementById('gridB');
const ticksB = document.getElementById('ticksB');
const marksB = document.getElementById('marksB');
xMinorB.forEach(function(t){ gridLine(gridB, xB(t), yB(35), xB(t), yB(0), '#f0f0f0', 3, 'minor-vertical-gridline'); });
yMinorB.forEach(function(v){ gridLine(gridB, xB(0), yB(v), xB(25), yB(v), '#f0f0f0', 3, 'minor-horizontal-gridline'); });
xTicksB.forEach(function(t){ gridLine(gridB, xB(t), yB(35), xB(t), yB(0), '#d9d9d9', 4, 'major-vertical-gridline'); });
yTicksB.forEach(function(v){ gridLine(gridB, xB(0), yB(v), xB(25), yB(v), '#d9d9d9', 4, 'major-horizontal-gridline'); });
gridLine(gridB, xB(0), yB(35), xB(0), yB(0), '#bfbfbf', 4, 'y-axis-line');
gridLine(gridB, xB(0), yB(0), xB(25), yB(0), '#bfbfbf', 4, 'x-axis-line');
xTicksB.forEach(function(t){ tickLabel(ticksB, xB(t), 3502, 'middle', t, 'x-tick-label'); });
yTicksB.forEach(function(v){ tickLabel(ticksB, 292, yB(v) + 18, 'end', v, 'y-tick-label'); });

monthlyAll.forEach(function(p){ dot(marksB, xB(p[0]), yB(p[1]), '#1a9cd8', 'monthly-point-all'); });
monthlyT10.forEach(function(p){ dot(marksB, xB(p[0]), yB(p[1]), '#00b04f', 'monthly-point-t10'); });
monthlyT15.forEach(function(p){ dot(marksB, xB(p[0]), yB(p[1]), '#ffc000', 'monthly-point-t15'); });
trend(marksB, trendTempsT15B, trendValuesT15B, xB, yB, '#7f6000', 9, 20, 'trendline-t15');
trend(marksB, trendTempsAllB, trendValuesAllB, xB, yB, '#0b4d7d', 9, 20.5, 'trendline-all');
trend(marksB, trendTempsT10B, trendValuesT10B, xB, yB, '#00603a', 9, 20.5, 'trendline-t10');
</script>
</body>
</html>
